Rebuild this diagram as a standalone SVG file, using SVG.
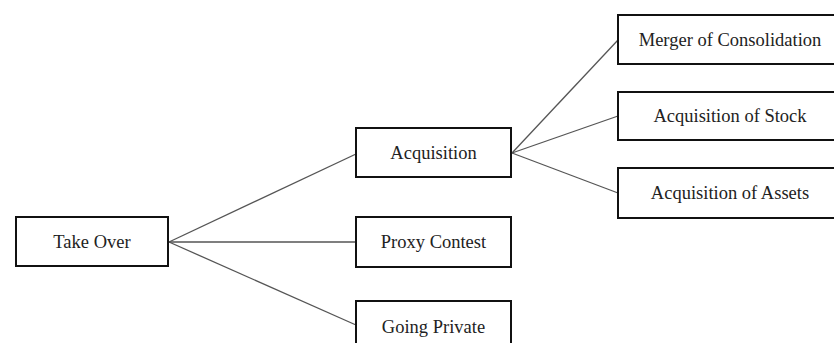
<svg xmlns="http://www.w3.org/2000/svg" width="834" height="343" viewBox="0 0 834 343">
<style>
.box{fill:#fff;stroke:#111;stroke-width:2}
.lbl{font-family:"Liberation Serif","Times New Roman",serif;font-size:18.5px;fill:#222;text-anchor:middle}
.conn line{stroke:#555;stroke-width:1.3}
</style>
<rect width="834" height="343" fill="#fff"/>
<g id="connectors" class="conn">
<line x1="169" y1="242" x2="356" y2="154"/>
<line x1="169" y1="242" x2="356" y2="242"/>
<line x1="169" y1="242" x2="356" y2="325"/>
<line x1="512" y1="153" x2="618" y2="40"/>
<line x1="512" y1="153" x2="618" y2="116"/>
<line x1="512" y1="153" x2="618" y2="193"/>
</g>
<g id="takeover"><rect class="box" x="16" y="217" width="152" height="49"/><text class="lbl" x="92" y="248">Take Over</text></g>
<g id="acquisition"><rect class="box" x="356" y="128" width="155" height="49"/><text class="lbl" x="433.5" y="159">Acquisition</text></g>
<g id="proxy"><rect class="box" x="356" y="217" width="155" height="50"/><text class="lbl" x="433.5" y="248">Proxy Contest</text></g>
<g id="private"><rect class="box" x="356" y="301" width="155" height="50"/><text class="lbl" x="433.5" y="333">Going Private</text></g>
<g id="merger"><rect class="box" x="618" y="15" width="224" height="49"/><text class="lbl" x="730" y="46">Merger of Consolidation</text></g>
<g id="stock"><rect class="box" x="618" y="92" width="224" height="48"/><text class="lbl" x="730" y="122">Acquisition of Stock</text></g>
<g id="assets"><rect class="box" x="618" y="168" width="224" height="50"/><text class="lbl" x="730" y="199">Acquisition of Assets</text></g>
</svg>
